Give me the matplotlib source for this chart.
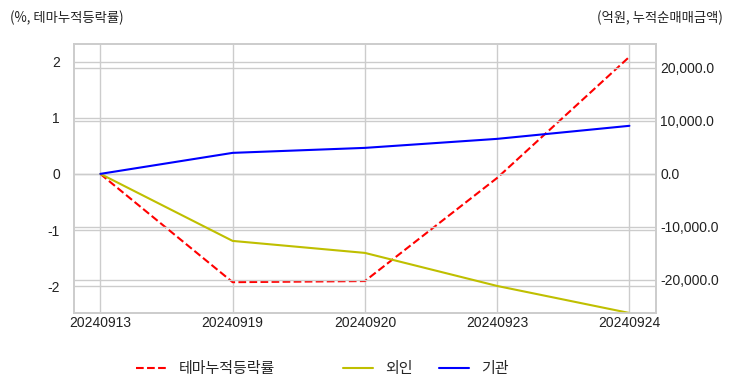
import matplotlib
matplotlib.use("Agg")
import matplotlib.pyplot as plt
from matplotlib.ticker import FuncFormatter

plt.style.use("seaborn-v0_8-whitegrid")
plt.rcParams['font.family'] = ['Noto Sans CJK KR', 'DejaVu Sans']
plt.rcParams['axes.unicode_minus'] = False

dates = ['20240913', '20240919', '20240920', '20240923', '20240924']
theme_ret = [0.0, -1.93, -1.91, -0.07, 2.09]      # %, 테마누적등락률
foreign = [0.0, -12640, -14900, -21130, -26230]   # 억원, 외인
inst = [0.0, 3960, 4900, 6600, 9060]              # 억원, 기관

fig = plt.figure(figsize=(7.32, 3.92), dpi=100)
ax1 = fig.add_axes([0.101, 0.2015, 0.795, 0.6865])
ax2 = ax1.twinx()

l1, = ax1.plot(dates, theme_ret, color='r', linestyle='--', linewidth=1.5, label='테마누적등락률')
l2, = ax2.plot(dates, foreign, color='y', linewidth=1.5, label='외인')
l3, = ax2.plot(dates, inst, color='b', linewidth=1.5, label='기관')

ax1.set_ylim(-2.48, 2.32)
ax2.set_ylim(-26230, 24500)
ax1.set_yticks([-2, -1, 0, 1, 2])
ax2.set_yticks([-20000, -10000, 0, 10000, 20000])
ax2.yaxis.set_major_formatter(FuncFormatter(lambda v, p: f"{v:,.1f}"))

for ax in (ax1, ax2):
    ax.tick_params(labelsize=10, colors='#222222', length=0)
    for lab in ax.get_xticklabels() + ax.get_yticklabels():
        lab.set_family(['Liberation Sans', 'DejaVu Sans'])
    for s in ax.spines.values():
        s.set_visible(True)
        s.set_color('#cccccc')
        s.set_linewidth(1.2)
    ax.grid(True, color='#cccccc', linewidth=1)
ax1.tick_params(axis='y', pad=10)
ax2.tick_params(axis='y', pad=3)
ax1.tick_params(axis='x', pad=2)

fig.text(0.013, 0.955, '(%, 테마누적등락률)', fontsize=9.6, ha='left', va='center', color='#222222')
fig.text(0.987, 0.955, '(억원, 누적순매매금액)', fontsize=9.6, ha='right', va='center', color='#222222')

# 범례 두 개로 분리 (테마 / 수급)
leg1 = fig.legend(handles=[l1], loc='center left', bbox_to_anchor=(0.168, 0.058),
                  frameon=False, fontsize=10.8)
leg2 = fig.legend(handles=[l2, l3], loc='center left', bbox_to_anchor=(0.45, 0.058),
                  ncol=2, columnspacing=1.75, frameon=False, fontsize=10.8)

fig.savefig('out.png', dpi=100)
